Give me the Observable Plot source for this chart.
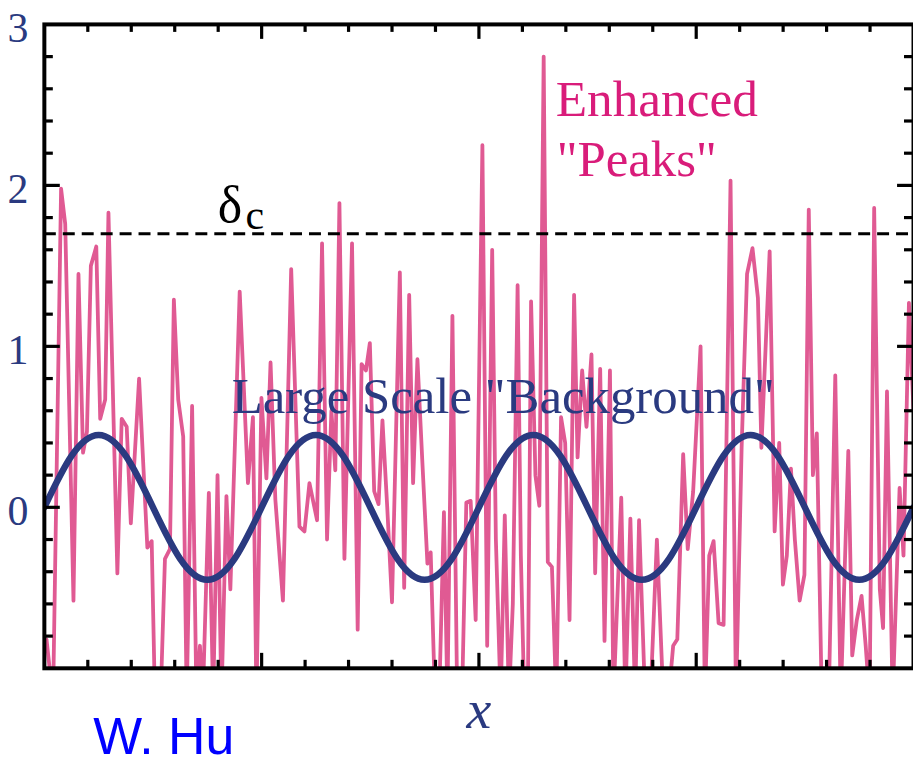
<!DOCTYPE html>
<html><head><meta charset="utf-8">
<script src="https://cdn.jsdelivr.net/npm/d3@7"></script>
<script src="https://cdn.jsdelivr.net/npm/@observablehq/plot@0.6"></script>
<style>html,body{margin:0;padding:0;overflow:hidden;background:#fff}</style>
</head><body><div id="chart"></div>
<script>
// Enhanced "peaks" (noisy small-scale field), x in units of the background wavelength
const peaksX = [
 0.010,0.040,0.077,0.096,0.134,0.157,0.178,0.196,0.214,0.239,
 0.257,0.280,0.295,0.336,0.356,0.379,0.398,0.436,0.474,0.494,
 0.509,0.535,0.555,0.578,0.596,0.616,0.639,0.655,0.680,0.700,
 0.716,0.729,0.757,0.777,0.797,0.815,0.838,0.856,0.899,0.937,
 0.960,0.976,0.999,1.022,1.041,1.063,1.098,1.136,1.174,1.197,
 1.220,1.255,1.278,1.301,1.321,1.339,1.358,1.381,1.416,1.442,
 1.460,1.480,1.498,1.518,1.538,1.556,1.578,1.600,1.636,1.656,
 1.679,1.697,1.717,1.739,1.763,1.778,1.798,1.817,1.839,1.855,
 1.878,1.900,1.922,1.942,1.962,1.985,2.016,2.038,2.061,2.078,
 2.100,2.119,2.138,2.156,2.178,2.193,2.209,2.225,2.240,2.260,
 2.278,2.298,2.317,2.336,2.356,2.378,2.397,2.417,2.438,2.454,
 2.475,2.495,2.518,2.535,2.558,2.578,2.603,2.619,2.655,2.674,
 2.697,2.719,2.737,2.765,2.789,2.819,2.849,2.872,2.894,2.913,
 2.940,2.961,2.986,3.020,3.040,3.060,3.080,3.103,3.126,3.158,
 3.183,3.209,3.234,3.259,3.284,3.300,3.338,3.361,3.382,3.399,
 3.417,3.436,3.454,3.476,3.498,3.518,3.537,3.555,3.578,3.610,
 3.640,3.665,3.700,3.718,3.739,3.761,3.780,3.798,3.819,3.845,
 3.860,3.878,3.904,3.936,3.954,3.979,4.000
];
const peaksY = [
 -0.82,-1.2,1.98,1.76,-0.58,1.45,0.34,0.47,1.5,1.62,
 0.55,0.67,1.83,-0.41,0.55,0.5,-0.1,0.8,-0.25,-0.21,
 -1.2,-1.2,-0.32,-0.26,1.29,0.67,0.44,-1.2,0.63,-1.2,
 -0.86,-1.2,0.09,-1.2,0.2,-1.2,0.07,-0.51,1.34,0.15,
 0.56,-1.2,0.68,0.18,0.9,0.05,-0.58,1.48,-0.12,-0.15,
 0.15,-0.08,1.64,-0.2,0.6,0.23,1.89,-0.32,1.64,-0.76,
 0.89,0.85,1.02,0.1,0.02,0.54,0.0,-0.59,1.46,-0.5,
 1.32,0.15,0.92,0.3,-0.35,-0.28,-1.2,-1.2,-0.03,-1.2,
 1.19,-1.2,-1.2,0.03,0.04,-0.7,2.25,-0.86,1.6,-0.2,
 -1.2,-0.05,-1.2,-0.6,1.38,-0.3,-1.2,-1.2,1.28,0.2,
 0.01,2.8,-0.34,-0.37,-1.2,0.56,0.4,-0.7,1.32,0.31,
 0.85,0.5,0.95,-0.41,0.86,-0.83,0.85,-1.2,0.06,-1.2,
 -0.07,-1.2,-0.08,-1.2,-1.2,-0.2,-1.2,-1.2,-0.86,-0.82,
 0.33,-0.26,0.1,1.0,-1.2,-0.3,-0.21,-0.72,-0.73,2.03,
 -1.2,0.37,1.45,1.61,1.3,0.37,1.59,-0.15,0.4,-0.48,
 -0.3,0.24,-0.2,-0.58,-0.42,1.85,0.2,0.46,-1.2,-1.2,
 0.82,-1.2,0.35,-0.92,-0.7,-0.55,-0.86,-1.2,1.86,-0.51,
 -0.75,0.72,-1.2,0.12,-0.3,1.27,0.6
];
// Large scale "background" wave
const bgX = [0,0.125,0.25,0.375,0.5,0.625,0.75,0.875,1,1.125,1.25,1.375,1.5,1.625,1.75,1.875,2,
             2.125,2.25,2.375,2.5,2.625,2.75,2.875,3,3.125,3.25,3.375,3.5,3.625,3.75,3.875,4];
const bgY = [0,0.32,0.45,0.32,0,-0.32,-0.45,-0.32,0,0.32,0.45,0.32,0,-0.32,-0.45,-0.32,0,
             0.32,0.45,0.32,0,-0.32,-0.45,-0.32,0,0.32,0.45,0.32,0,-0.32,-0.45,-0.32,0];
const deltaC = [1.7];
const yTickLabels = [0, 1, 2, 3];
const yMajorTicks = [0, 1, 2];
const yMinorTicks = [-0.8,-0.6,-0.4,-0.2,0.2,0.4,0.6,0.8,1.2,1.4,1.6,1.8,2.2,2.4,2.6,2.8];
const xMajorTicks = [1, 2, 3];
const xMinorTicks = [0.2,0.4,0.6,0.8,1.2,1.4,1.6,1.8,2.2,2.4,2.6,2.8,3.2,3.4,3.6,3.8];

const peaks = peaksX.map((x, i) => ({x, y: peaksY[i]}));
const bg = bgX.map((x, i) => ({x, y: bgY[i]}));

const W = 916, H = 767, mL = 44, mT = 24, mB = 97, mR = 0;
const pw = W - mL - mR, ph = H - mT - mB;
const serif = "'Liberation Serif','Times New Roman',Times,serif";
const sans = "'Liberation Sans',Arial,Helvetica,sans-serif";
const navy = "#2a3a80", pinkLine = "#e05a93", pinkText = "#d91c7a";

const chart = Plot.plot({
  width: W, height: H,
  marginLeft: mL, marginTop: mT, marginBottom: mB, marginRight: mR,
  x: {domain: [0, 4], axis: null},
  y: {domain: [-1, 3], axis: null},
  style: {fontFamily: serif, background: "white", overflow: "visible"},
  marks: [
    Plot.line(peaks, {x: "x", y: "y", stroke: pinkLine, strokeWidth: 3.8, clip: true}),
    Plot.line(bg, {x: "x", y: "y", stroke: navy, strokeWidth: 6.5, curve: "natural", clip: true}),
    Plot.ruleY(deltaC, {stroke: "black", strokeWidth: 3, strokeDasharray: "12,7"}),
    Plot.frame({stroke: "black", strokeWidth: 4}),
    // inward ticks: left / right
    Plot.tickY(yMinorTicks, {y: d => d, insetRight: pw - 9, stroke: "black", strokeWidth: 3.2}),
    Plot.tickY(yMajorTicks, {y: d => d, insetRight: pw - 16, stroke: "black", strokeWidth: 3.2}),
    Plot.tickY(yMinorTicks, {y: d => d, insetLeft: pw - 9, stroke: "black", strokeWidth: 3.2}),
    Plot.tickY(yMajorTicks, {y: d => d, insetLeft: pw - 16, stroke: "black", strokeWidth: 3.2}),
    // inward ticks: top / bottom
    Plot.tickX(xMinorTicks, {x: d => d, insetBottom: ph - 8, stroke: "black", strokeWidth: 3.2}),
    Plot.tickX(xMajorTicks, {x: d => d, insetBottom: ph - 15, stroke: "black", strokeWidth: 3.2}),
    Plot.tickX(xMinorTicks, {x: d => d, insetTop: ph - 8, stroke: "black", strokeWidth: 3.2}),
    Plot.tickX(xMajorTicks, {x: d => d, insetTop: ph - 15, stroke: "black", strokeWidth: 3.2}),
    // y tick labels
    Plot.text(yTickLabels, {y: d => d, frameAnchor: "left", dx: -16, dy: 4, textAnchor: "end",
      lineAnchor: "middle", text: d => String(d), fontSize: 42, fill: navy}),
    // x axis label
    Plot.text(["x"], {frameAnchor: "bottom", dy: 60, lineAnchor: "bottom", fontSize: 56,
      fontStyle: "italic", fill: navy}),
    // annotations
    Plot.text(["δ"], {x: 0.798, y: 1.77, textAnchor: "start", lineAnchor: "bottom", fontSize: 52, fill: "black"}),
    Plot.text(["c"], {x: 0.926, y: 1.727, textAnchor: "start", lineAnchor: "bottom", fontSize: 42, fill: "black"}),
    Plot.text(["Large Scale \"Background\""], {x: 0.862, y: 0.584, textAnchor: "start", lineAnchor: "bottom",
      fontSize: 51, fill: navy}),
    Plot.text(["Enhanced"], {x: 2.353, y: 2.43, textAnchor: "start", lineAnchor: "bottom", fontSize: 51.5, fill: pinkText}),
    Plot.text(["\"Peaks\""], {x: 2.358, y: 2.056, textAnchor: "start", lineAnchor: "bottom", fontSize: 51, fill: pinkText}),
    Plot.text(["W. Hu"], {frameAnchor: "bottom-left", dx: 49, dy: 86, textAnchor: "start", lineAnchor: "bottom",
      fontFamily: sans, fontSize: 52, fill: "#0000ff"})
  ]
});
document.getElementById("chart").appendChild(chart);
</script>
</body></html>
